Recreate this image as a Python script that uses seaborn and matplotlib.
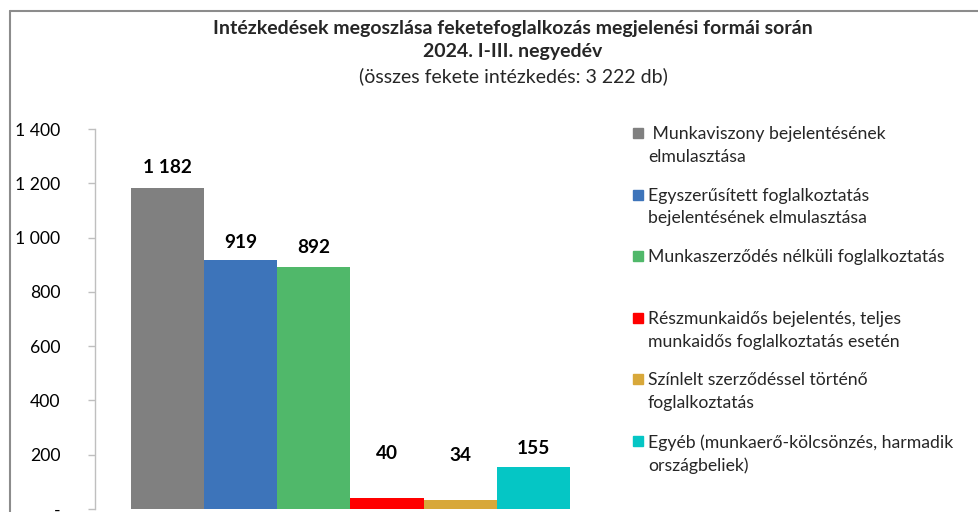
import matplotlib.pyplot as plt
from matplotlib.lines import Line2D
from matplotlib.patches import Rectangle
import pandas as pd
import seaborn as sns

# Adatok
categories = ['Munkaviszony', 'Egyszerűsített', 'Munkaszerződés nélküli',
              'Részmunkaidős', 'Színlelt', 'Egyéb']
values = [1182, 919, 892, 40, 34, 155]
colors = ['#808080', '#3D74BA', '#50B86A', '#FF0000', '#D8A83A', '#05C6C5']
legend_labels = [
    ' Munkaviszony bejelentésének\nelmulasztása',
    'Egyszerűsített foglalkoztatás\nbejelentésének elmulasztása',
    'Munkaszerződés nélküli foglalkoztatás',
    'Részmunkaidős bejelentés, teljes\nmunkaidős foglalkoztatás esetén',
    'Színlelt szerződéssel történő\nfoglalkoztatás',
    'Egyéb (munkaerő-kölcsönzés, harmadik\nországbeliek)',
]
y_ticks = [0, 200, 400, 600, 800, 1000, 1200, 1400]
title_lines = ['Intézkedések megoszlása feketefoglalkozás megjelenési formái során',
               '2024. I-III. negyedév',
               '(összes fekete intézkedés: 3 222 db)']

W, H = 979, 512


def fx(px):
    return px / W


def fy(px):
    return 1 - px / H


def hu_fmt(v):
    if v == 0:
        return '-'
    return f'{v:,}'.replace(',', ' ')


sns.set_theme(style='white')
plt.rcParams['font.family'] = ['Lato', 'DejaVu Sans']

df = pd.DataFrame({'forma': categories, 'db': values})

fig = plt.figure(figsize=(W / 100, H / 100), dpi=100)
ax = fig.add_axes([fx(95), fy(509), (606 - 95) / W, (509 - 129) / H])

sns.barplot(data=df, x='forma', y='db', hue='forma', palette=colors,
            width=1, saturation=1, linewidth=0, legend=False, ax=ax)

ax.set_xlim(-0.99, 5.99)
ax.set_ylim(0, 1400)
ax.set_yticks(y_ticks)
ax.set_yticklabels([hu_fmt(t) for t in y_ticks])
ax.set_xticks([])
ax.set_xlabel('')
ax.set_ylabel('')
for side in ['top', 'right', 'bottom']:
    ax.spines[side].set_visible(False)
ax.spines['left'].set_color('#BFBFBF')
ax.spines['left'].set_linewidth(1)
ax.tick_params(axis='y', direction='out', length=5, width=1, color='#BFBFBF',
               pad=20, labelsize=12.7, labelcolor='black', left=True)

# adatcimkek (Excel a kis oszlopok cimket feljebb tette)
label_pad = [9, 6, 7.5, 26, 26, 7.5]
for cont, v, p in zip(ax.containers, values, label_pad):
    ax.bar_label(cont, labels=[hu_fmt(v)], padding=p, fontweight='bold',
                 fontsize=13.7, color='black')

# cim
fig.text(fx(513), fy(28.5), title_lines[0], ha='center', va='center',
         fontweight='bold', fontsize=14)
fig.text(fx(513), fy(51), title_lines[1], ha='center', va='center',
         fontweight='bold', fontsize=14)
fig.text(fx(513), fy(76.5), title_lines[2], ha='center', va='center',
         fontsize=14)

# jelmagyarazat
for i, (lab, col) in enumerate(zip(legend_labels, colors)):
    yc = 133 + i * 61.6
    fig.add_artist(Rectangle((fx(633), fy(yc + 5)), 10 / W, 10 / H,
                             color=col, transform=fig.transFigure))
    fig.text(fx(648), fy(yc - 7), lab, ha='left', va='top', fontsize=12.7,
             linespacing=1.52)

# keret
frame = '#8C8C8C'
fig.add_artist(Line2D([fx(9.5), fx(9.5)], [0, fy(10.5)], color=frame, lw=1.5))
fig.add_artist(Line2D([fx(9.5), 1], [fy(10.5), fy(10.5)], color=frame, lw=1.5))

fig.savefig('out.png', dpi=100)
